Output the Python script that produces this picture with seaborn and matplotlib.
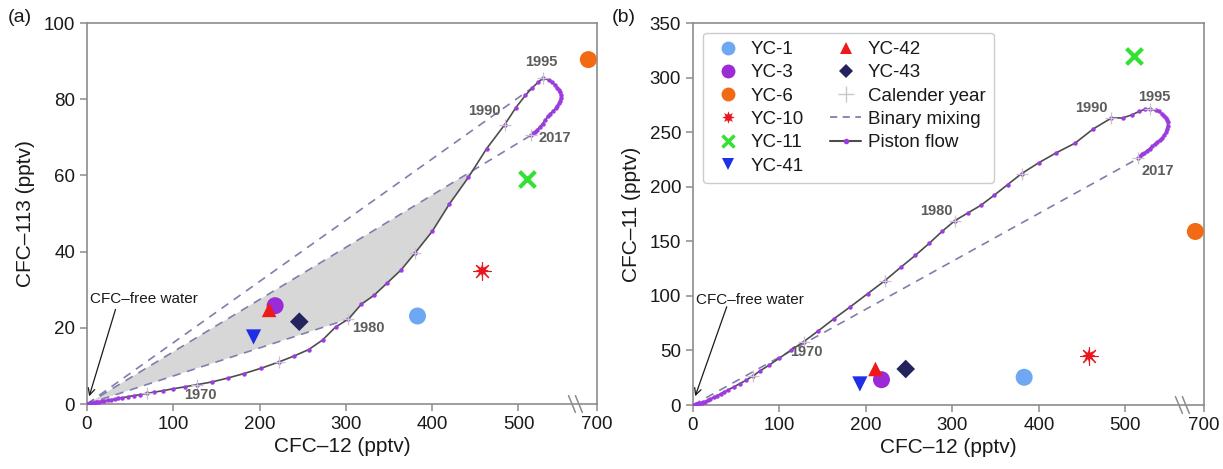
import numpy as np
import pandas as pd
import matplotlib
matplotlib.use("Agg")
import matplotlib.pyplot as plt
import seaborn as sns
from matplotlib.lines import Line2D

# ---------------- data ----------------
years = list(range(1944, 2018))
cfc12 = [0, 1, 2, 3, 4, 5, 6, 8, 10, 12, 14, 17, 20, 24, 28, 32, 36, 41, 47, 54,
         61, 69, 78, 88, 100, 113, 128, 145, 163, 182, 202, 222, 240, 257, 273, 288,
         303, 318, 333, 348, 364, 380, 400, 420, 442, 463, 484, 497, 508, 516, 523, 529,
         535, 539, 542, 545, 547, 548, 549, 549, 548, 547, 545, 543, 540, 537, 534, 531,
         528, 525, 522, 519, 517, 515]
cfc11 = [0, 0.1, 0.2, 0.3, 0.5, 0.7, 1.0, 1.4, 1.9, 2.5, 3.2, 4.2, 5.4, 7.0, 8.6, 10.2,
         12.0, 14.0, 16.5, 19.5, 22.5, 26.5, 31.5, 36.5, 43, 50, 58, 68, 79, 90, 102, 114,
         126, 137, 148, 159, 169, 176, 183, 192, 202, 212, 222, 231, 240, 253, 263, 263,
         266, 269, 271, 271, 270, 269, 267, 265, 263, 261, 259, 256, 253, 250, 247, 245,
         243, 241, 239, 237, 235, 233, 231, 230, 228, 226]
cfc113 = [0, 0.04, 0.08, 0.12, 0.16, 0.2, 0.25, 0.32, 0.4, 0.5, 0.6, 0.7, 0.8, 1.0, 1.1,
          1.3, 1.45, 1.65, 1.9, 2.2, 2.45, 2.8, 3.1, 3.5, 4.0, 4.5, 5.1, 5.8, 6.8, 8.0,
          9.4, 11.0, 12.6, 14.3, 16.8, 20.2, 22.3, 26.2, 28.6, 31.8, 35.2, 39.6, 45.3,
          52.5, 59.5, 67.0, 73.3, 77.8, 81.0, 83.0, 84.5, 85.6, 85.0, 84.5, 83.8, 83.0,
          82.5, 82.0, 81.2, 80.2, 79.5, 79.0, 78.2, 77.6, 76.9, 76.2, 75.5, 74.5, 73.6,
          72.8, 72.0, 71.4, 71.0, 70.6]

calendar_years = [1965, 1970, 1975, 1980, 1985, 1990, 1995, 2017]
mixing_years_a = [1980, 1993, 2017]
mixing_years_b = [2017]
shade_years = (1980, 2017)

wells = ["YC-1", "YC-3", "YC-6", "YC-10", "YC-11", "YC-41", "YC-42", "YC-43"]
w_cfc12 = [383, 218, 690, 458, 510, 193, 211, 246]
w_cfc113 = [23.1, 25.8, 90.4, 35.0, 59.0, 17.6, 24.7, 21.6]
w_cfc11 = [25.4, 23.2, 159.0, 45.2, 319.5, 19.3, 33.0, 33.0]

w_colors = ["#6ea7f2", "#9a2bd6", "#f26a14", "#e8161e", "#33e133", "#1f2fe6", "#ee1a1a", "#23235e"]
w_markers = ["o", "o", "o", (8, 1, 0), "x", "v", "^", "D"]
w_sizes = [150, 150, 150, 120, 130, 120, 110, 90]

year_labels_a = {"1970": (131, 2.4), "1980": (326, 20.0), "1990": (461, 77.0),
                 "1995": (526, 89.8), "2017": (542, 69.7)}
year_labels_b = {"1970": (131, 48.3), "1980": (282, 177.6), "1990": (461, 272.4),
                 "1995": (533, 282.2), "2017": (538, 214.0)}

x_ticks = [0, 100, 200, 300, 400, 500, 700]

# ---------------- style ----------------
sns.set_style("ticks")
plt.rcParams["font.family"] = ["Liberation Sans", "DejaVu Sans"]

SPINE = "#8c8c8c"
LINE = "#4d4d4d"
PURPLE = "#9d3be0"
DASH = "#7f7fae"


def brk(x):
    """Axis break: values beyond 560 are shifted so 700 sits at the right edge."""
    x = np.asarray(x, dtype=float)
    return np.where(x > 560, x - 109, x)


XMAX = 591

fig = plt.figure(figsize=(12.23, 4.69), dpi=100)
ax_a = fig.add_axes([87 / 1223, 65 / 469, 510 / 1223, 381 / 469])
ax_b = fig.add_axes([693 / 1223, 64 / 469, 511 / 1223, 382 / 469])

df = pd.DataFrame({"year": years, "cfc12": cfc12, "cfc11": cfc11, "cfc113": cfc113})


def style_axes(ax, ymax, yticks, ylabel):
    ax.set_xlim(0, XMAX)
    ax.set_ylim(0, ymax)
    ax.set_xticks(brk(x_ticks))
    ax.set_xticklabels([str(t) for t in x_ticks])
    ax.set_yticks(yticks)
    ax.set_yticklabels([str(t) for t in yticks])
    for s in ax.spines.values():
        s.set_color(SPINE)
        s.set_linewidth(1.2)
        s.set_visible(True)
    ax.tick_params(axis="both", colors=SPINE, labelcolor="#1a1a1a", labelsize=13.5,
                   length=5, width=1.1, direction="out")
    ax.set_xlabel("CFC\u201312 (pptv)", fontsize=15, color="#1a1a1a", labelpad=3)
    ax.set_ylabel(ylabel, fontsize=15, color="#1a1a1a", labelpad=6)
    # axis break marks
    for xb in (562, 570):
        ax.plot([xb - 4, xb + 4], [0.022, -0.022], color=SPINE, lw=1.1,
                transform=ax.get_xaxis_transform(), clip_on=False, zorder=5)


def draw_panel(ax, ycol, wy, mix_years, year_labels, shade=False):
    sub = df.set_index("year")
    # shading
    if shade:
        y0, y1 = shade_years
        s = sub.loc[y1, ycol] / sub.loc[y1, "cfc12"]
        seg = sub.loc[y0:y1]
        xs, ys = seg["cfc12"].values, seg[ycol].values
        d = ys - s * xs
        poly = [(0, 0)]
        for i in range(len(xs) - 1):
            poly.append((xs[i], ys[i]))
            if d[i] < 0 <= d[i + 1]:
                t = d[i] / (d[i] - d[i + 1])
                poly.append((xs[i] + t * (xs[i + 1] - xs[i]), ys[i] + t * (ys[i + 1] - ys[i])))
                break
        px, py = zip(*poly)
        ax.fill(px, py, color="#d7d7d7", lw=0, zorder=1)
    # binary mixing lines
    for yr in mix_years:
        ax.plot([0, sub.loc[yr, "cfc12"]], [0, sub.loc[yr, ycol]], color=DASH,
                lw=1.2, ls=(0, (5, 4)), zorder=2)
    # piston flow
    sns.lineplot(data=df, x="cfc12", y=ycol, sort=False, estimator=None, ax=ax,
                 color=LINE, lw=1.2, marker="o", markersize=3.2,
                 markerfacecolor=PURPLE, markeredgecolor=PURPLE, markeredgewidth=0,
                 legend=False, zorder=3)
    # calendar years
    cy = sub.loc[calendar_years]
    sns.scatterplot(x=cy["cfc12"].values, y=cy[ycol].values, marker="+", s=80,
                    color="#c6c6c6", linewidth=0.9, ax=ax, legend=False, zorder=4)
    for lab, (lx, ly) in year_labels.items():
        ax.text(lx, ly, lab, fontsize=10.5, fontweight="bold", color="#5c5c5c",
                ha="center", va="center", zorder=6)
    # wells
    for name, x, y, c, m, sz in zip(wells, brk(w_cfc12), wy, w_colors, w_markers, w_sizes):
        if m == "x":
            sns.scatterplot(x=[x], y=[y], marker=m, s=sz, color=c, linewidth=3,
                            ax=ax, legend=False, zorder=7, clip_on=False)
        elif isinstance(m, tuple):
            sns.scatterplot(x=[x], y=[y], marker=(8, 2, 0), s=sz * 1.3, color=c,
                            linewidth=0.8, ax=ax, legend=False, zorder=7)
            sns.scatterplot(x=[x], y=[y], marker=m, s=sz * 0.75, color=c, edgecolor="none",
                            linewidth=0, ax=ax, legend=False, zorder=7)
        else:
            sns.scatterplot(x=[x], y=[y], marker=m, s=sz, color=c, edgecolor="none",
                            linewidth=0, ax=ax, legend=False, zorder=7, clip_on=False)


draw_panel(ax_a, "cfc113", w_cfc113, mixing_years_a, year_labels_a, shade=True)
draw_panel(ax_b, "cfc11", w_cfc11, mixing_years_b, year_labels_b)

style_axes(ax_a, 100, [0, 20, 40, 60, 80, 100], "CFC\u2013113 (pptv)")
style_axes(ax_b, 350, [0, 50, 100, 150, 200, 250, 300, 350], "CFC\u201311 (pptv)")

# CFC-free water annotations
ax_a.text(4, 27.6, "CFC\u2013free water", fontsize=11, color="#1a1a1a", ha="left", va="center")
ax_a.annotate("", xy=(2.5, 2.0), xytext=(33, 24.8),
              arrowprops=dict(arrowstyle="->", color="#1a1a1a", lw=0.9,
                              shrinkA=0, shrinkB=0, mutation_scale=12))
ax_b.text(4, 96.6, "CFC\u2013free water", fontsize=11, color="#1a1a1a", ha="left", va="center")
ax_b.annotate("", xy=(2.5, 8.0), xytext=(39, 90),
              arrowprops=dict(arrowstyle="->", color="#1a1a1a", lw=0.9,
                              shrinkA=0, shrinkB=0, mutation_scale=12))

fig.text(8 / 1223, 1 - 18 / 469, "(a)", fontsize=14, color="#1a1a1a", ha="left", va="center")
fig.text(612 / 1223, 1 - 18 / 469, "(b)", fontsize=14, color="#1a1a1a", ha="left", va="center")

# legend
handles = []
for name, c, m in zip(wells, w_colors, w_markers):
    if m == "x":
        handles.append(Line2D([], [], ls="none", marker="x", color=c, markersize=9,
                              markeredgewidth=2.5, label=name))
    elif isinstance(m, tuple):
        handles.append(Line2D([], [], ls="none", marker=m, color=c, markersize=9,
                              markeredgewidth=0, label=name))
    else:
        ms = {"o": 10, "v": 9, "^": 8, "D": 7}[m]
        handles.append(Line2D([], [], ls="none", marker=m, color=c, markersize=ms,
                              markeredgewidth=0, label=name))
handles.append(Line2D([], [], ls="none", marker="+", color="#c8c8c8", markersize=11,
                      markeredgewidth=1.0, label="Calender year"))
handles.append(Line2D([], [], color=DASH, lw=1.3, ls=(0, (4, 3)), label="Binary mixing"))
handles.append(Line2D([], [], color=LINE, lw=1.5, marker="o", markersize=3,
                      markerfacecolor=PURPLE, markeredgecolor=PURPLE, label="Piston flow"))
leg = ax_b.legend(handles=handles, ncol=2, loc="upper left",
                  bbox_to_anchor=(0.02, 0.975), borderaxespad=0, fontsize=13.5,
                  frameon=True, fancybox=True, framealpha=1, edgecolor="#cccccc",
                  labelspacing=0.33, handlelength=1.7, handletextpad=0.35,
                  columnspacing=1.4, borderpad=0.45)
leg.get_frame().set_linewidth(1.0)
for t in leg.get_texts():
    t.set_color("#1a1a1a")

fig.savefig("out.png", dpi=100)
